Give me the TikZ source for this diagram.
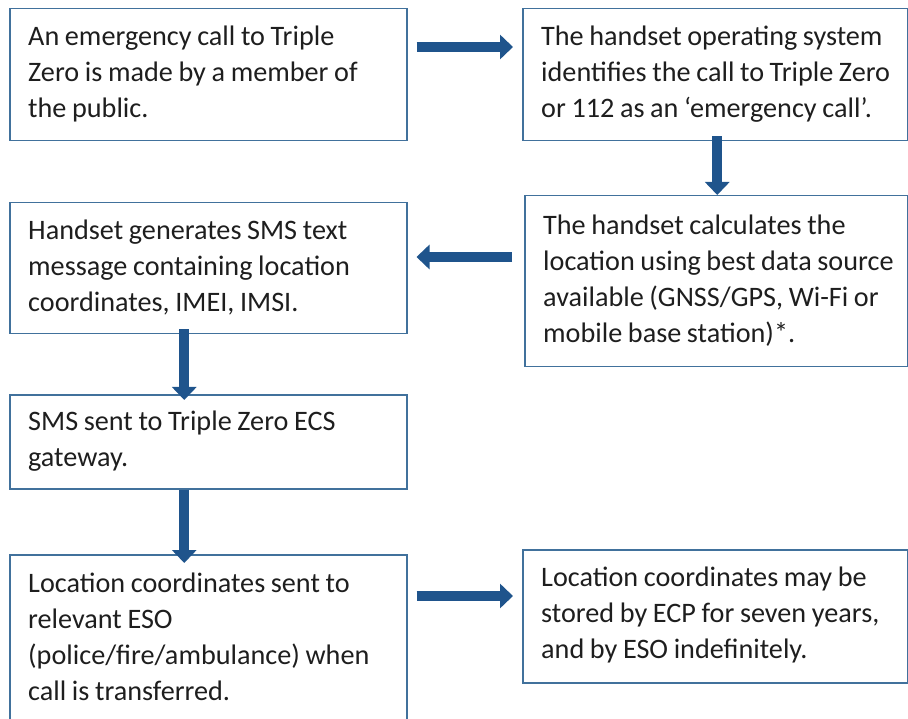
\documentclass[tikz,border=0pt]{standalone}
\usepackage{fontspec}
\setmainfont{Carlito}
\usetikzlibrary{arrows.meta,calc}
\definecolor{boxblue}{RGB}{65,113,156}
\definecolor{arrblue}{RGB}{31,84,140}
\definecolor{txt}{RGB}{30,30,30}
\tikzset{
  box/.style={draw=boxblue, line width=1.5pt, rectangle, anchor=north west, inner sep=0pt},
  label/.style={anchor=west, align=left, inner sep=0pt, text=txt,
    font={\fontsize{28.2}{36}\selectfont\spaceskip=0.2em plus 0.02em\relax}},
  bigarrow/.style={draw=arrblue, line width=10pt,
    -{Triangle[length=13pt,width=24pt]}},
}
\begin{document}
\begin{tikzpicture}[x=1pt,y=1pt]
\useasboundingbox (0,0) rectangle (908,-719);
\node[box, minimum width=397pt, minimum height=132pt] (b1) at (9,-8) {};
\node[box, minimum width=385pt, minimum height=132pt] (b2) at (522,-8) {};
\node[box, minimum width=383pt, minimum height=171pt] (b3) at (524,-195) {};
\node[box, minimum width=397pt, minimum height=131pt] (b4) at (9,-202) {};
\node[box, minimum width=397pt, minimum height=94pt] (b5) at (9,-394) {};
\node[box, minimum width=397pt, minimum height=166pt] (b6) at (9,-554) {};
\node[box, minimum width=385pt, minimum height=133pt] (b7) at (522,-549) {};
\node[label] (t1) at ($(b1.west)+(19,1)$)
  {An emergency call to Triple\\Zero is made by a member of\\the public.};
\node[label] (t2) at ($(b2.west)+(19,1)$)
  {The handset operating system\\identifies the call to Triple Zero\\or 112  as an ‘emergency call’.};
\node[label] (t3) at ($(b3.west)+(19,1)$)
  {The handset calculates the\\location using best data source\\available (GNSS/GPS, Wi-Fi or\\mobile base station)*.};
\node[label] (t4) at ($(b4.west)+(19,1)$)
  {Handset generates SMS text\\message containing location\\coordinates, IMEI, IMSI.};
\node[label] (t5) at ($(b5.west)+(19,1)$)
  {SMS sent to Triple  Zero ECS\\gateway.};
\node[label] (t6) at ($(b6.west)+(19,1)$)
  {Location coordinates sent to\\relevant ESO\\(police/fire/ambulance) when\\call is transferred.};
\node[label] (t7) at ($(b7.west)+(19,1)$)
  {Location coordinates may be\\stored by ECP for seven years,\\and by ESO indefinitely.};
\draw[bigarrow] ($(b1.north east)+(9,-39)$) -- ($(b2.north west)+(-9,-39)$);
\draw[bigarrow] ($(b2.south)+(2,5)$) -- ($(b3.north)+(1,0)$);
\draw[bigarrow] ($(b3.north west)+(-12,-62)$) -- ($(b4.north east)+(9,-55)$);
\draw[bigarrow] ($(b4.south)+(-24,5)$) -- ($(b5.north)+(-24,-6)$);
\draw[bigarrow] ($(b5.south)+(-24,0)$) -- ($(b6.north)+(-24,-9)$);
\draw[bigarrow] ($(b6.north east)+(9,-42)$) -- ($(b7.north west)+(-9,-47)$);
\end{tikzpicture}
\end{document}
